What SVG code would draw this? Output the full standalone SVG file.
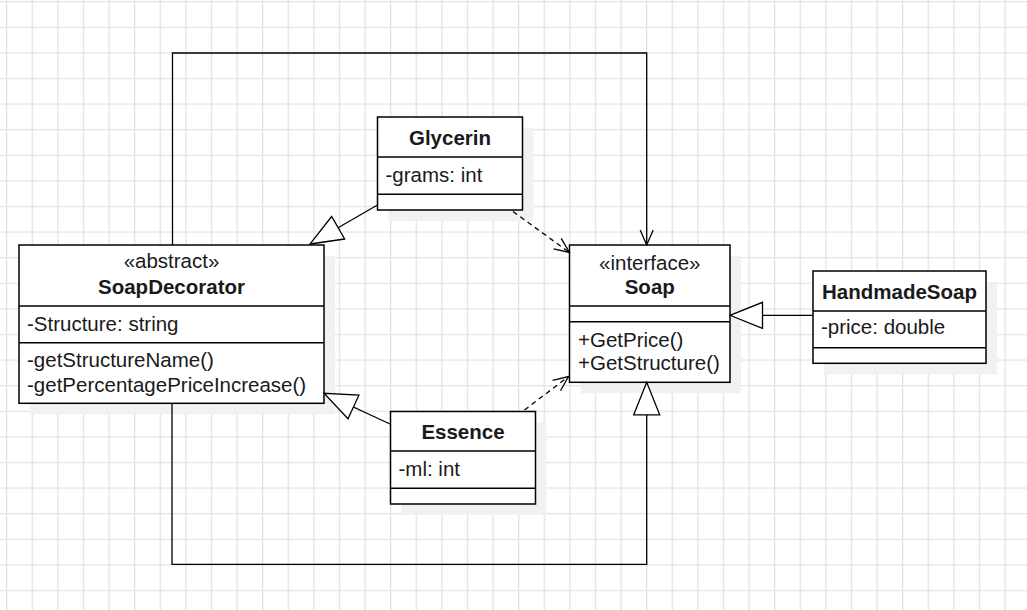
<svg xmlns="http://www.w3.org/2000/svg" width="1027" height="610" viewBox="0 0 1027 610">
<style>
.box{fill:#fff;stroke:#000;stroke-width:1.5}
.div{stroke:#000;stroke-width:1.5;fill:none}
.shadow{fill:#f1f1f1}
.t{font-family:"Liberation Sans",Arial,sans-serif;font-size:20.5px;fill:#1a1a1a}
.b{font-weight:bold;text-anchor:middle}
.c{text-anchor:middle}
.edge{fill:none;stroke:#000;stroke-width:1.3}
.dash{stroke-dasharray:5 4}
</style>
<defs>
<pattern id="grid" x="6.05" y="1.05" width="25.6" height="25.6" patternUnits="userSpaceOnUse">
<path d="M0.65 0V25.6M0 0.65H25.6" stroke="#e2e2e2" stroke-width="1.3" fill="none"/>
</pattern>
<marker id="tri" viewBox="0 0 35 28" refX="33.5" refY="14" markerWidth="35" markerHeight="28" markerUnits="userSpaceOnUse" orient="auto">
<path d="M1,1 L33.5,14 L1,27 Z" fill="#fff" stroke="#000" stroke-width="1.3"/>
</marker>
<marker id="open" viewBox="0 0 17 15" refX="16" refY="7.5" markerWidth="17" markerHeight="15" markerUnits="userSpaceOnUse" orient="auto">
<path d="M1,1 L16,7.5 L1,14" fill="none" stroke="#000" stroke-width="1.3"/>
</marker>
</defs>
<rect width="1027" height="610" fill="#fff"/>
<rect width="1027" height="610" fill="url(#grid)"/>

<g id="Glycerin">
<rect class="shadow" x="388.5" y="128" width="145" height="93"/>
<rect class="box" x="377.5" y="117" width="145" height="93"/>
<path class="div" d="M377.5,157 H522.5 M377.5,194.3 H522.5"/>
<text class="t b" x="450" y="144.5">Glycerin</text>
<text class="t" x="385.5" y="182">-grams: int</text>
</g>

<g id="SoapDecorator">
<rect class="shadow" x="30" y="256" width="305" height="158.3"/>
<rect class="box" x="19" y="245" width="305" height="158.3"/>
<path class="div" d="M19,306 H324 M19,342.7 H324"/>
<text class="t c" x="171.5" y="268">«abstract»</text>
<text class="t b" x="171.5" y="294">SoapDecorator</text>
<text class="t" x="27" y="331">-Structure: string</text>
<text class="t" x="27" y="366.5">-getStructureName()</text>
<text class="t" x="27" y="391.5">-getPercentagePriceIncrease()</text>
</g>

<g id="Soap">
<rect class="shadow" x="580.5" y="256" width="160.5" height="137.3"/>
<rect class="box" x="569.5" y="245" width="160.5" height="137.3"/>
<path class="div" d="M569.5,306 H730 M569.5,321.7 H730"/>
<text class="t c" x="649.75" y="269.5">«interface»</text>
<text class="t b" x="649.75" y="293.5">Soap</text>
<text class="t" x="578" y="346.5">+GetPrice()</text>
<text class="t" x="578" y="370">+GetStructure()</text>
</g>

<g id="HandmadeSoap">
<rect class="shadow" x="824" y="282" width="173" height="92.3"/>
<rect class="box" x="813" y="271" width="173" height="92.3"/>
<path class="div" d="M813,311 H986 M813,347.7 H986"/>
<text class="t b" x="899.5" y="298.5">HandmadeSoap</text>
<text class="t" x="821" y="334">-price: double</text>
</g>

<g id="Essence">
<rect class="shadow" x="401.5" y="422.5" width="145" height="92.5"/>
<rect class="box" x="390.5" y="411.5" width="145" height="92.5"/>
<path class="div" d="M390.5,451 H535.5 M390.5,488.3 H535.5"/>
<text class="t b" x="463" y="439">Essence</text>
<text class="t" x="398.5" y="475.5">-ml: int</text>
</g>

<g id="connectors">
<path class="edge" d="M172.5,245 V53 H646.7 V245" marker-end="url(#open)"/>
<path class="edge" d="M172,403.3 V564.3 H646.7 V382.3" marker-end="url(#tri)"/>
<path class="edge" d="M377,205.3 L310,244" marker-end="url(#tri)"/>
<path class="edge" d="M390,424 L324,393.3" marker-end="url(#tri)"/>
<path class="edge" d="M813,315.3 L730,315.3" marker-end="url(#tri)"/>
<path class="edge dash" d="M513,211.5 L569.5,252.5" marker-end="url(#open)"/>
<path class="edge dash" d="M524.5,410 L568.5,376.5" marker-end="url(#open)"/>
</g>
</svg>
